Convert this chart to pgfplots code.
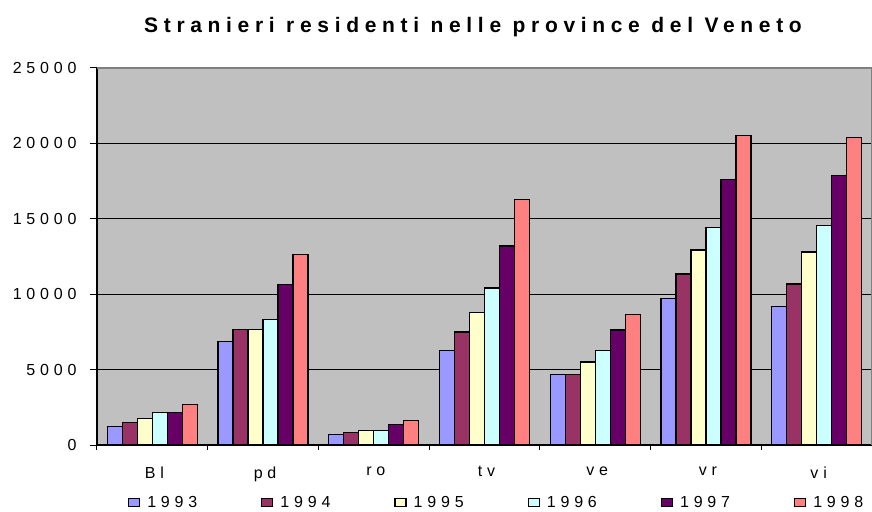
\documentclass[border=0pt]{standalone}
\usepackage{fontspec}
\usepackage{pgfplots}
\usepackage{pgfplotstable}
\pgfplotsset{compat=1.18}
\setmainfont{Liberation Sans}
\newfontfamily\spaced[LetterSpace=30]{Liberation Sans}
\newfontfamily\titlefont[LetterSpace=27]{Liberation Sans}
\definecolor{c93}{HTML}{9999FF}
\definecolor{c94}{HTML}{993366}
\definecolor{c95}{HTML}{FFFFCC}
\definecolor{c96}{HTML}{CCFFFF}
\definecolor{c97}{HTML}{660066}
\definecolor{c98}{HTML}{FF8080}
\definecolor{bgc}{HTML}{C0C0C0}
\definecolor{brd}{HTML}{808080}
\pgfplotstableread{
x  a93   a94   a95   a96   a97   a98
0  1220  1510  1780  2160  2160  2710
1  6860  7650  7650  8320  10650 12650
2  710   840   980   980   1380  1640
3  6290  7490  8810  10410 13200 16260
4  4700  4700  5510  6290  7620  8680
5  9720  11340 12930 14400 17590 20510
6  9210  10680 12800 14530 17870 20380
}\datatable
\pgfplotsset{
  mybar/.style={fill=#1, draw=black, line width=1.2pt,
    legend image code/.code={\draw[fill=#1,draw=black,line width=1.2pt] (0pt,-4pt) rectangle (11pt,4pt);}},
}
\begin{document}
\begin{tikzpicture}[x=1pt,y=1pt]
\path[use as bounding box] (0,0) rectangle (872,511);
\begin{axis}[
  at={(97pt,66pt)}, anchor=south west,
  scale only axis, width=775pt, height=377pt,
  xmin=-0.5, xmax=6.5, ymin=0, ymax=25000,
  ybar=0pt, bar width=15pt,
  axis lines*=left,
  axis line style={line width=1.2pt, black},
  axis background/.style={fill=bgc},
  ytick={0,5000,...,25000},
  ymajorgrids, major grid style={black, line width=1pt},
  xtick={0,...,6},
  xticklabels={Bl,pd,ro,tv,ve,vr,vi},
  minor xtick={-0.5,0.5,...,6.5},
  every major x tick/.append style={draw=none},
  tick align=outside,
  major tick length=7pt, minor tick length=5pt,
  tick style={black, line width=1pt},
  /pgf/number format/assume math mode=true,
  /pgf/number format/1000 sep={},
  scaled y ticks=false,
  tick label style={font=\fontsize{16}{18}\selectfont\spaced},
  yticklabel style={xshift=-10pt},
  xticklabel style={yshift=-11pt, xshift=2pt},
  legend columns=6,
  legend style={at={(axis description cs:0.036,-0.152)}, anchor=west, draw=none, fill=none,
    font=\fontsize{16}{18}\selectfont\spaced,
    /tikz/every odd column/.append style={column sep=5pt},
    /tikz/every even column/.append style={column sep=62pt}},
]
\addplot[mybar=c93] table[x=x,y=a93] {\datatable};
\addplot[mybar=c94] table[x=x,y=a94] {\datatable};
\addplot[mybar=c95] table[x=x,y=a95] {\datatable};
\addplot[mybar=c96] table[x=x,y=a96] {\datatable};
\addplot[mybar=c97] table[x=x,y=a97] {\datatable};
\addplot[mybar=c98] table[x=x,y=a98] {\datatable};
\legend{1993,1994,1995,1996,1997,1998}
\draw[brd, line width=1.2pt] (rel axis cs:0,1) -- (rel axis cs:1,1) -- (rel axis cs:1,0);
\end{axis}
\node[font=\fontsize{21}{24}\selectfont\titlefont\bfseries] at (473,484) {Stranieri residenti nelle province del Veneto};
\end{tikzpicture}
\end{document}
